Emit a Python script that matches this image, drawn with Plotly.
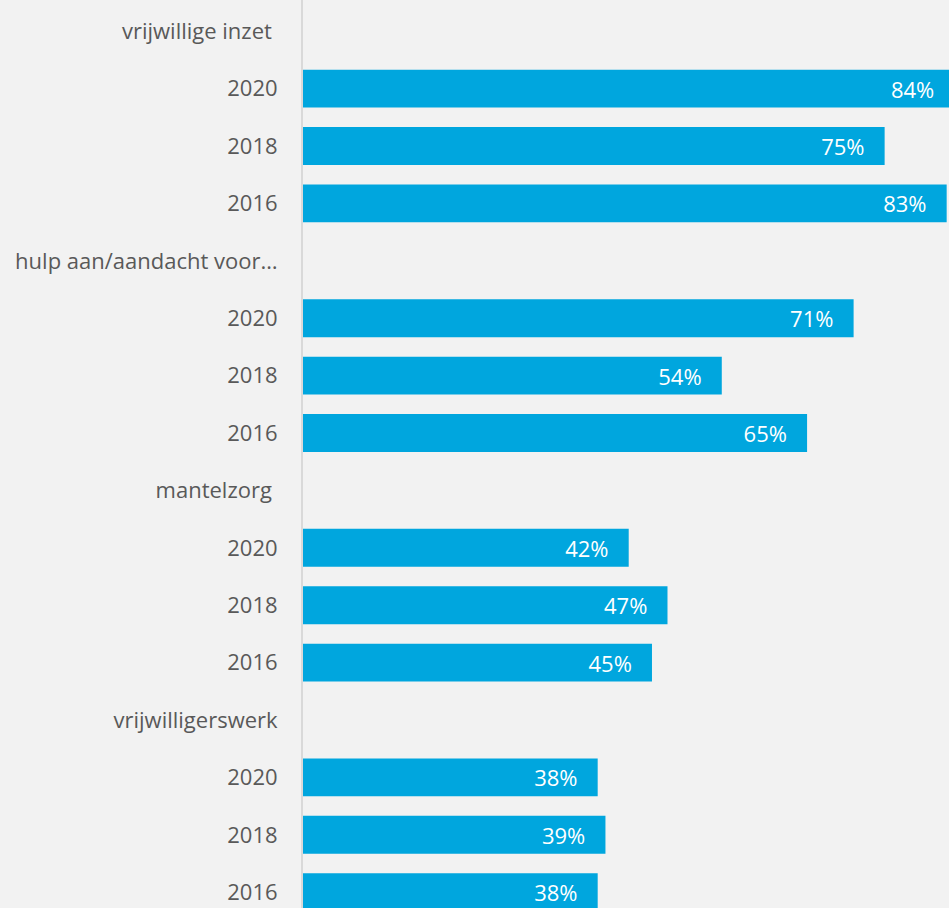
import plotly.graph_objects as go

groups = ["vrijwillige inzet", "hulp aan/aandacht voor…", "mantelzorg", "vrijwilligerswerk"]
years = ["2020", "2018", "2016"]
values = {
    "vrijwillige inzet": [84, 75, 83],
    "hulp aan/aandacht voor…": [71, 54, 65],
    "mantelzorg": [42, 47, 45],
    "vrijwilligerswerk": [38, 39, 38],
}

NB = "\u00a0"
header_pad = {"vrijwillige inzet": NB, "mantelzorg": NB}

tickvals, ticktext = [], []
bar_y, bar_x, bar_text = [], [], []
pos = 0
for g in groups:
    tickvals.append(pos)
    ticktext.append(g + header_pad.get(g, ""))
    pos += 1
    for yr, v in zip(years, values[g]):
        tickvals.append(pos)
        ticktext.append(yr)
        bar_y.append(pos)
        bar_x.append(v)
        bar_text.append(f"{v}%" + NB * 3)
        pos += 1

fig = go.Figure(
    go.Bar(
        x=bar_x,
        y=bar_y,
        orientation="h",
        width=0.66,
        marker=dict(color="#00A6DE", line=dict(width=0)),
        text=bar_text,
        textposition="inside",
        insidetextanchor="end",
        textangle=0,
        insidetextfont=dict(color="#FFFFFF", size=22, family="Open Sans"),
        hoverinfo="skip",
    )
)

row_px = 57.4
top_px = 2.5
H = 908
fig.update_layout(
    width=949,
    height=908,
    margin=dict(l=303, r=0, t=0, b=0, pad=0),
    paper_bgcolor="#F2F2F2",
    plot_bgcolor="#F2F2F2",
    showlegend=False,
    font=dict(family="Open Sans", size=22, color="#595959"),
    xaxis=dict(
        range=[0, 83.3],
        showgrid=False,
        zeroline=False,
        showticklabels=False,
        showline=False,
        fixedrange=True,
    ),
    yaxis=dict(
        tickmode="array",
        tickvals=tickvals,
        ticktext=ticktext,
        range=[-0.5 + (H - top_px) / row_px, -0.5 - top_px / row_px],
        showgrid=False,
        zeroline=False,
        showline=True,
        linecolor="#D9D9D9",
        linewidth=2,
        ticks="",
        ticklabelstandoff=19,
        tickfont=dict(family="Open Sans", size=22, color="#595959"),
        fixedrange=True,
    ),
)

fig.write_html(
    "out.html",
    config={"displayModeBar": False},
    post_script="document.body.style.margin='0';document.body.style.overflow='hidden';document.body.style.background='#F2F2F2';",
)
